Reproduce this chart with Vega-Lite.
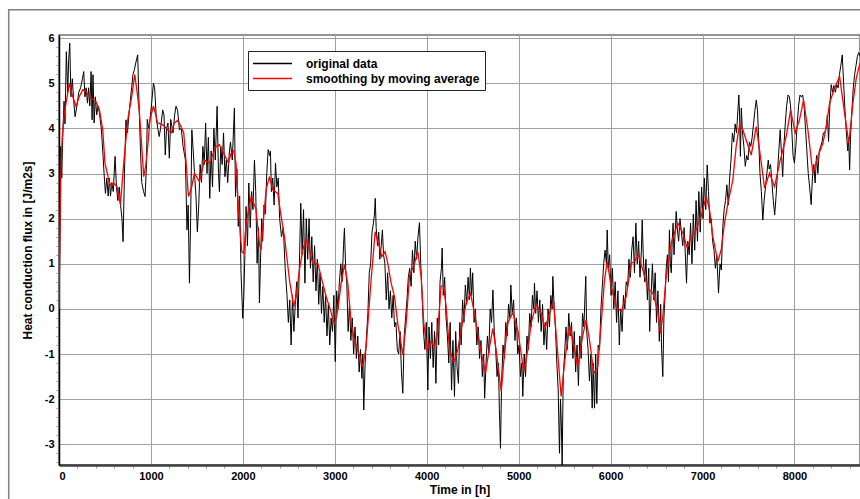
{
  "$schema": "https://vega.github.io/schema/vega-lite/v6.json",
  "width": 801,
  "height": 430,
  "autosize": {"type": "none"},
  "padding": {"left": 59, "top": 35, "right": 0, "bottom": 34},
  "background": "white",
  "config": {
    "font": "Liberation Sans",
    "view": {"stroke": "#707070", "strokeWidth": 1.5},
    "axis": {"labelFont": "Liberation Sans", "labelFontWeight": "bold", "labelFontSize": 11, "labelColor": "black", "titleFont": "Liberation Sans", "titleFontWeight": "bold", "titleFontSize": 12, "titleColor": "black", "gridColor": "#a0a0a0", "gridWidth": 1, "gridOpacity": 1}
  },
  "resolve": {"axis": {"x": "independent", "y": "independent"}},
  "datasets": {
    "orig": [
      {"h":0,"v":0},{"h":10,"v":1.5},{"h":20,"v":3.6},{"h":30,"v":2.9},{"h":40,"v":3.8},{"h":55,"v":4.6},{"h":65,"v":4.1},{"h":80,"v":5.7},{"h":95,"v":4.8},{"h":105,"v":5.5},{"h":117,"v":5.89},{"h":130,"v":4.7},{"h":145,"v":5.1},{"h":160,"v":4.6},{"h":175,"v":4.26},{"h":195,"v":4.5},{"h":215,"v":4.8},{"h":235,"v":4.9},{"h":255,"v":5.1},{"h":269,"v":5.26},{"h":282,"v":4.7},{"h":295,"v":4.9},{"h":310,"v":4.56},{"h":322,"v":4.9},{"h":335,"v":4.5},{"h":349,"v":5.26},{"h":360,"v":4.19},{"h":370,"v":5.19},{"h":382,"v":4.12},{"h":395,"v":4.7},{"h":410,"v":4.3},{"h":425,"v":4.5},{"h":440,"v":4.34},{"h":460,"v":4.0},{"h":476,"v":3.5},{"h":490,"v":3.01},{"h":505,"v":2.56},{"h":520,"v":2.9},{"h":535,"v":2.5},{"h":548,"v":2.9},{"h":560,"v":2.5},{"h":575,"v":2.8},{"h":590,"v":2.6},{"h":610,"v":3.38},{"h":625,"v":2.7},{"h":640,"v":2.4},{"h":655,"v":2.7},{"h":670,"v":2.3},{"h":685,"v":2.0},{"h":697,"v":1.49},{"h":712,"v":3.0},{"h":728,"v":4.19},{"h":745,"v":3.9},{"h":760,"v":4.3},{"h":775,"v":4.6},{"h":790,"v":4.9},{"h":805,"v":5.2},{"h":820,"v":5.3},{"h":835,"v":5.45},{"h":856,"v":5.63},{"h":870,"v":4.6},{"h":885,"v":3.6},{"h":900,"v":2.8},{"h":920,"v":2.6},{"h":936,"v":2.49},{"h":950,"v":3.1},{"h":960,"v":4.2},{"h":975,"v":4.0},{"h":990,"v":4.2},{"h":1010,"v":4.6},{"h":1027,"v":5.0},{"h":1040,"v":4.9},{"h":1060,"v":4.19},{"h":1075,"v":4.0},{"h":1090,"v":3.82},{"h":1105,"v":4.0},{"h":1128,"v":4.41},{"h":1142,"v":4.3},{"h":1156,"v":3.41},{"h":1170,"v":4.0},{"h":1185,"v":4.12},{"h":1200,"v":3.34},{"h":1215,"v":4.2},{"h":1240,"v":3.9},{"h":1258,"v":4.3},{"h":1273,"v":4.49},{"h":1290,"v":4.4},{"h":1310,"v":3.97},{"h":1330,"v":4.0},{"h":1350,"v":3.6},{"h":1375,"v":3.3},{"h":1392,"v":1.75},{"h":1405,"v":2.3},{"h":1419,"v":0.57},{"h":1432,"v":2.0},{"h":1445,"v":3.97},{"h":1460,"v":3.5},{"h":1476,"v":2.93},{"h":1490,"v":2.5},{"h":1505,"v":1.71},{"h":1520,"v":2.3},{"h":1535,"v":3.2},{"h":1550,"v":2.8},{"h":1565,"v":3.6},{"h":1580,"v":3.2},{"h":1595,"v":4.12},{"h":1610,"v":3.0},{"h":1625,"v":3.8},{"h":1640,"v":2.45},{"h":1655,"v":3.5},{"h":1670,"v":2.7},{"h":1685,"v":4.0},{"h":1700,"v":3.3},{"h":1720,"v":4.49},{"h":1735,"v":3.0},{"h":1745,"v":2.6},{"h":1760,"v":3.6},{"h":1775,"v":3.2},{"h":1790,"v":3.9},{"h":1805,"v":2.93},{"h":1820,"v":3.3},{"h":1835,"v":2.8},{"h":1850,"v":3.4},{"h":1865,"v":3.7},{"h":1885,"v":3.3},{"h":1908,"v":4.45},{"h":1920,"v":2.49},{"h":1935,"v":3.1},{"h":1950,"v":1.83},{"h":1965,"v":2.5},{"h":1980,"v":0.79},{"h":1999,"v":-0.21},{"h":2010,"v":0.27},{"h":2022,"v":1.2},{"h":2035,"v":2.27},{"h":2050,"v":1.4},{"h":2065,"v":2.79},{"h":2080,"v":1.8},{"h":2095,"v":2.6},{"h":2110,"v":2.2},{"h":2126,"v":3.3},{"h":2140,"v":2.6},{"h":2155,"v":1.01},{"h":2170,"v":1.8},{"h":2180,"v":0.13},
      {"h":2191,"v":1.0},{"h":2205,"v":2.0},{"h":2215,"v":1.5},{"h":2230,"v":2.3},{"h":2245,"v":2.1},{"h":2260,"v":3.0},{"h":2275,"v":3.53},{"h":2290,"v":3.4},{"h":2300,"v":3.5},{"h":2310,"v":2.6},{"h":2325,"v":2.9},{"h":2340,"v":2.3},{"h":2355,"v":3.23},{"h":2370,"v":2.7},{"h":2385,"v":2.9},{"h":2400,"v":2.0},{"h":2420,"v":1.6},{"h":2440,"v":1.8},{"h":2460,"v":0.9},{"h":2480,"v":0.3},{"h":2495,"v":-0.3},{"h":2510,"v":0.2},{"h":2525,"v":-0.8},{"h":2540,"v":0.3},{"h":2555,"v":-0.5},{"h":2570,"v":0.1},{"h":2585,"v":0.6},{"h":2600,"v":-0.2},{"h":2615,"v":1.0},{"h":2630,"v":2.34},{"h":2645,"v":1.2},{"h":2660,"v":2.2},{"h":2675,"v":0.57},{"h":2690,"v":2.0},{"h":2705,"v":1.1},{"h":2720,"v":2.0},{"h":2735,"v":0.9},{"h":2750,"v":1.6},{"h":2765,"v":0.6},{"h":2780,"v":1.4},{"h":2795,"v":0.4},{"h":2810,"v":1.1},{"h":2825,"v":0.1},{"h":2840,"v":0.8},{"h":2855,"v":-0.1},{"h":2870,"v":0.5},{"h":2885,"v":-0.3},{"h":2900,"v":0.3},{"h":2915,"v":-0.6},{"h":2930,"v":0.1},{"h":2945,"v":-0.8},{"h":2960,"v":-0.2},{"h":2975,"v":-0.5},{"h":2990,"v":0.3},{"h":3005,"v":-1.17},{"h":3020,"v":0.4},{"h":3035,"v":0.0},{"h":3050,"v":0.6},{"h":3065,"v":1.0},{"h":3080,"v":0.6},{"h":3095,"v":1.4},{"h":3105,"v":1.79},{"h":3118,"v":0.9},{"h":3130,"v":0.6},{"h":3145,"v":-0.5},{"h":3160,"v":0.1},{"h":3175,"v":-0.7},{"h":3190,"v":-0.2},{"h":3205,"v":-1.0},{"h":3220,"v":-0.4},{"h":3235,"v":-1.1},{"h":3250,"v":-0.6},{"h":3265,"v":-1.4},{"h":3280,"v":-0.9},{"h":3295,"v":-1.54},{"h":3305,"v":-1.0},{"h":3315,"v":-2.24},{"h":3330,"v":-1.2},{"h":3345,"v":-0.6},{"h":3360,"v":-0.1},{"h":3375,"v":0.8},{"h":3390,"v":1.0},{"h":3405,"v":1.7},{"h":3420,"v":1.9},{"h":3432,"v":2.1},{"h":3440,"v":2.45},{"h":3450,"v":1.8},{"h":3465,"v":1.4},{"h":3478,"v":1.7},{"h":3490,"v":1.1},{"h":3505,"v":1.4},{"h":3518,"v":1.75},{"h":3530,"v":1.2},{"h":3545,"v":1.0},{"h":3560,"v":0.2},{"h":3575,"v":0.8},{"h":3590,"v":0.0},{"h":3605,"v":0.4},{"h":3620,"v":-0.2},{"h":3635,"v":0.3},{"h":3650,"v":-0.4},{"h":3665,"v":-0.3},{"h":3680,"v":-0.9},{"h":3695,"v":-1.0},{"h":3710,"v":-0.5},{"h":3725,"v":-1.4},{"h":3740,"v":-1.87},{"h":3755,"v":-0.6},{"h":3770,"v":-0.2},{"h":3785,"v":0.2},{"h":3800,"v":0.7},{"h":3815,"v":0.9},{"h":3830,"v":0.5},{"h":3845,"v":1.3},{"h":3860,"v":0.8},{"h":3875,"v":1.5},{"h":3890,"v":1.1},{"h":3905,"v":1.6},{"h":3921,"v":1.91},{"h":3935,"v":1.0},{"h":3950,"v":0.3},{"h":3965,"v":-0.5},{"h":3980,"v":-0.9},{"h":3995,"v":-0.3},{"h":4012,"v":-1.8},{"h":4025,"v":-0.4},{"h":4040,"v":-1.1},{"h":4055,"v":-0.3},{"h":4070,"v":-1.3},{"h":4085,"v":-0.5},{"h":4100,"v":-1.65},{"h":4115,"v":-0.2},{"h":4130,"v":-0.8},{"h":4145,"v":0.6},{"h":4160,"v":0.9},{"h":4168,"v":1.35},{"h":4180,"v":0.3},{"h":4195,"v":0.7},{"h":4210,"v":-0.2},{"h":4225,"v":-0.6},{"h":4240,"v":-1.2},{"h":4255,"v":-0.3},{"h":4270,"v":-1.8},{"h":4285,"v":-0.7},{"h":4302,"v":-1.94},{"h":4315,"v":-0.5},{"h":4330,"v":-1.3},
      {"h":4345,"v":-1.65},{"h":4360,"v":-0.3},{"h":4375,"v":-0.8},{"h":4390,"v":0.2},{"h":4405,"v":-0.3},{"h":4420,"v":0.53},{"h":4435,"v":0.1},{"h":4450,"v":0.7},{"h":4465,"v":0.2},{"h":4475,"v":0.9},{"h":4488,"v":0.3},{"h":4500,"v":0.8},{"h":4515,"v":-0.3},{"h":4530,"v":0.0},{"h":4545,"v":-0.8},{"h":4560,"v":-0.4},{"h":4575,"v":-1.1},{"h":4590,"v":-0.7},{"h":4605,"v":-1.5},{"h":4620,"v":-1.0},{"h":4630,"v":-1.98},{"h":4645,"v":-1.2},{"h":4660,"v":-0.6},{"h":4675,"v":-1.0},{"h":4690,"v":0.0},{"h":4705,"v":-0.3},{"h":4720,"v":0.42},{"h":4735,"v":-0.5},{"h":4750,"v":-0.9},{"h":4765,"v":-1.5},{"h":4780,"v":-1.2},{"h":4790,"v":-2.2},{"h":4802,"v":-3.09},{"h":4815,"v":-1.6},{"h":4830,"v":-0.8},{"h":4845,"v":-1.1},{"h":4860,"v":-0.3},{"h":4875,"v":-0.6},{"h":4890,"v":0.1},{"h":4905,"v":-0.2},{"h":4915,"v":0.53},{"h":4930,"v":-0.1},{"h":4945,"v":0.2},{"h":4960,"v":-0.7},{"h":4975,"v":-0.2},{"h":4990,"v":-1.0},{"h":5005,"v":-0.8},{"h":5020,"v":-1.5},{"h":5035,"v":-1.2},{"h":5045,"v":-1.94},{"h":5060,"v":-1.0},{"h":5075,"v":-1.5},{"h":5090,"v":-0.6},{"h":5105,"v":-0.9},{"h":5120,"v":-0.1},{"h":5135,"v":-0.4},{"h":5150,"v":0.3},{"h":5165,"v":0.0},{"h":5172,"v":0.57},{"h":5185,"v":-0.1},{"h":5200,"v":0.4},{"h":5215,"v":-0.3},{"h":5230,"v":0.2},{"h":5245,"v":-0.5},{"h":5260,"v":0.1},{"h":5275,"v":-0.8},{"h":5290,"v":-0.3},{"h":5305,"v":-0.9},{"h":5320,"v":0.0},{"h":5335,"v":-0.4},{"h":5350,"v":0.3},{"h":5365,"v":0.0},{"h":5372,"v":0.72},{"h":5385,"v":0.1},{"h":5400,"v":-0.4},{"h":5415,"v":-1.2},{"h":5430,"v":-1.8},{"h":5444,"v":-3.2},{"h":5455,"v":-2.0},{"h":5465,"v":-2.6},{"h":5473,"v":-3.46},{"h":5485,"v":-1.5},{"h":5500,"v":-1.0},{"h":5515,"v":-0.4},{"h":5530,"v":-0.9},{"h":5545,"v":-0.1},{"h":5560,"v":-0.6},{"h":5575,"v":-0.3},{"h":5590,"v":-1.1},{"h":5605,"v":-0.5},{"h":5620,"v":-1.4},{"h":5635,"v":-0.8},{"h":5650,"v":-1.7},{"h":5665,"v":-0.6},{"h":5680,"v":-1.1},{"h":5695,"v":-0.1},{"h":5710,"v":-0.4},{"h":5720,"v":0.2},{"h":5730,"v":0.72},{"h":5740,"v":-0.5},{"h":5755,"v":-0.9},{"h":5770,"v":-1.6},{"h":5785,"v":-1.0},{"h":5800,"v":-2.2},{"h":5810,"v":-1.2},{"h":5825,"v":-2.2},{"h":5838,"v":-1.0},{"h":5850,"v":-2.1},{"h":5865,"v":-0.8},{"h":5880,"v":-0.9},{"h":5895,"v":0.0},{"h":5910,"v":0.5},{"h":5925,"v":1.0},{"h":5940,"v":1.3},{"h":5955,"v":1.0},{"h":5963,"v":1.75},{"h":5975,"v":0.9},{"h":5990,"v":1.2},{"h":6005,"v":0.3},{"h":6020,"v":0.9},{"h":6035,"v":0.0},{"h":6050,"v":0.6},{"h":6065,"v":-0.3},{"h":6080,"v":0.4},{"h":6095,"v":-0.8},{"h":6110,"v":0.0},{"h":6125,"v":-0.5},{"h":6140,"v":0.3},{"h":6155,"v":0.0},{"h":6170,"v":0.6},{"h":6185,"v":0.5},{"h":6200,"v":1.1},{"h":6215,"v":0.7},{"h":6230,"v":1.3},{"h":6245,"v":1.6},{"h":6260,"v":0.8},{"h":6275,"v":1.9},{"h":6290,"v":1.0},{"h":6305,"v":1.5},{"h":6320,"v":0.7},{"h":6335,"v":1.3},{"h":6344,"v":1.97},{"h":6355,"v":1.2},{"h":6370,"v":0.6},{"h":6385,"v":1.1},{"h":6400,"v":0.2},{"h":6415,"v":0.9},{"h":6425,"v":-0.5},{"h":6440,"v":0.3},{"h":6455,"v":1.0},{"h":6470,"v":0.2},{"h":6485,"v":0.8},{"h":6500,"v":-0.3},{"h":6515,"v":0.4},{"h":6530,"v":-0.72},
      {"h":6545,"v":0.1},{"h":6555,"v":-0.9},{"h":6568,"v":-1.5},{"h":6580,"v":-0.2},{"h":6592,"v":0.3},{"h":6605,"v":0.9},{"h":6618,"v":1.2},{"h":6630,"v":0.6},{"h":6640,"v":1.75},{"h":6650,"v":1.0},{"h":6660,"v":0.8},{"h":6670,"v":1.5},{"h":6680,"v":1.9},{"h":6690,"v":1.2},{"h":6714,"v":2.16},{"h":6725,"v":1.8},{"h":6740,"v":1.5},{"h":6755,"v":2.0},{"h":6770,"v":1.7},{"h":6785,"v":1.4},{"h":6800,"v":1.8},{"h":6815,"v":1.1},{"h":6826,"v":0.57},{"h":6840,"v":1.5},{"h":6855,"v":1.2},{"h":6870,"v":1.9},{"h":6885,"v":1.0},{"h":6900,"v":2.1},{"h":6915,"v":1.3},{"h":6930,"v":2.4},{"h":6945,"v":1.5},{"h":6960,"v":2.6},{"h":6975,"v":1.7},{"h":6990,"v":2.7},{"h":7005,"v":2.0},{"h":7020,"v":2.9},{"h":7035,"v":2.2},{"h":7051,"v":3.19},{"h":7065,"v":2.6},{"h":7080,"v":1.9},{"h":7095,"v":2.0},{"h":7110,"v":1.5},{"h":7125,"v":1.3},{"h":7140,"v":0.9},{"h":7155,"v":1.2},{"h":7174,"v":0.35},{"h":7190,"v":1.0},{"h":7205,"v":0.86},{"h":7220,"v":1.8},{"h":7235,"v":2.2},{"h":7250,"v":2.4},{"h":7265,"v":2.75},{"h":7280,"v":2.3},{"h":7295,"v":2.9},{"h":7310,"v":3.3},{"h":7325,"v":3.9},{"h":7340,"v":3.7},{"h":7355,"v":4.1},{"h":7370,"v":3.9},{"h":7385,"v":4.4},{"h":7395,"v":4.74},{"h":7403,"v":4.3},{"h":7412,"v":3.38},{"h":7422,"v":4.45},{"h":7435,"v":3.9},{"h":7450,"v":3.6},{"h":7465,"v":3.16},{"h":7480,"v":3.4},{"h":7495,"v":3.3},{"h":7510,"v":3.7},{"h":7525,"v":3.6},{"h":7540,"v":3.8},{"h":7555,"v":4.1},{"h":7570,"v":4.4},{"h":7585,"v":4.63},{"h":7598,"v":4.4},{"h":7610,"v":3.8},{"h":7625,"v":3.0},{"h":7640,"v":2.6},{"h":7656,"v":1.97},{"h":7670,"v":2.4},{"h":7685,"v":2.7},{"h":7700,"v":3.0},{"h":7715,"v":3.3},{"h":7725,"v":3.1},{"h":7740,"v":3.2},{"h":7755,"v":2.8},{"h":7770,"v":2.4},{"h":7785,"v":2.08},{"h":7800,"v":2.5},{"h":7815,"v":3.0},{"h":7830,"v":3.5},{"h":7845,"v":3.97},{"h":7860,"v":3.4},{"h":7872,"v":2.93},{"h":7885,"v":3.6},{"h":7900,"v":4.1},{"h":7915,"v":4.5},{"h":7930,"v":4.74},{"h":7945,"v":4.7},{"h":7958,"v":4.5},{"h":7970,"v":4.0},{"h":7985,"v":3.4},{"h":8000,"v":3.23},{"h":8015,"v":3.6},{"h":8030,"v":4.1},{"h":8045,"v":4.5},{"h":8060,"v":4.74},{"h":8074,"v":4.7},{"h":8090,"v":4.74},{"h":8105,"v":4.5},{"h":8120,"v":4.0},{"h":8135,"v":3.5},{"h":8150,"v":3.0},{"h":8165,"v":2.7},{"h":8182,"v":2.31},{"h":8195,"v":2.9},{"h":8210,"v":3.2},{"h":8225,"v":2.79},{"h":8240,"v":3.4},{"h":8255,"v":3.0},{"h":8270,"v":3.5},{"h":8285,"v":3.6},{"h":8300,"v":3.7},{"h":8315,"v":3.9},{"h":8330,"v":3.9},{"h":8346,"v":4.04},{"h":8358,"v":4.3},{"h":8371,"v":3.71},{"h":8385,"v":4.5},{"h":8400,"v":4.97},{"h":8415,"v":4.8},{"h":8430,"v":4.95},{"h":8445,"v":4.8},{"h":8460,"v":4.97},{"h":8475,"v":4.9},{"h":8490,"v":5.2},{"h":8505,"v":5.4},{"h":8520,"v":5.63},{"h":8535,"v":5.0},{"h":8550,"v":4.4},{"h":8565,"v":3.9},{"h":8580,"v":3.5},{"h":8590,"v":3.8},{"h":8600,"v":3.08},{"h":8612,"v":3.9},{"h":8625,"v":4.4},{"h":8640,"v":4.9},{"h":8655,"v":5.2},{"h":8670,"v":5.4},{"h":8685,"v":5.6},{"h":8700,"v":5.68},{"h":8713,"v":5.6}
    ],
    "smooth": [
      {"h":0,"v":0},{"h":8,"v":1.5},{"h":20,"v":3.0},{"h":35,"v":3.8},{"h":55,"v":4.3},{"h":80,"v":4.6},{"h":113,"v":5.0},{"h":150,"v":4.7},{"h":185,"v":4.49},{"h":220,"v":4.7},{"h":258,"v":4.86},{"h":300,"v":4.8},{"h":349,"v":4.67},{"h":400,"v":4.6},{"h":440,"v":4.41},{"h":476,"v":3.97},{"h":500,"v":3.23},{"h":548,"v":2.79},{"h":570,"v":2.72},{"h":595,"v":2.79},{"h":630,"v":2.71},{"h":668,"v":2.31},{"h":704,"v":3.23},{"h":748,"v":4.19},{"h":791,"v":4.71},{"h":824,"v":5.19},{"h":850,"v":4.8},{"h":875,"v":4.34},{"h":900,"v":3.6},{"h":922,"v":2.93},{"h":945,"v":3.2},{"h":965,"v":3.6},{"h":990,"v":4.19},{"h":1027,"v":4.5},{"h":1074,"v":4.12},{"h":1128,"v":4.08},{"h":1183,"v":3.97},{"h":1220,"v":3.9},{"h":1255,"v":4.12},{"h":1292,"v":4.18},{"h":1328,"v":4.04},{"h":1357,"v":3.9},{"h":1383,"v":3.23},{"h":1408,"v":2.49},{"h":1437,"v":2.64},{"h":1473,"v":3.01},{"h":1527,"v":2.82},{"h":1582,"v":3.3},{"h":1636,"v":3.23},{"h":1709,"v":3.6},{"h":1745,"v":3.64},{"h":1818,"v":3.34},{"h":1843,"v":3.23},{"h":1872,"v":3.45},{"h":1900,"v":3.5},{"h":1926,"v":3.23},{"h":1955,"v":2.12},{"h":1988,"v":1.27},{"h":2010,"v":1.23},{"h":2035,"v":1.89},{"h":2090,"v":2.49},{"h":2144,"v":2.2},{"h":2180,"v":1.44},{"h":2198,"v":1.31},{"h":2227,"v":2.05},{"h":2253,"v":2.64},{"h":2289,"v":2.93},{"h":2325,"v":2.64},{"h":2380,"v":2.56},{"h":2416,"v":2.05},{"h":2452,"v":1.6},{"h":2507,"v":0.64},{"h":2554,"v":0.05},{"h":2579,"v":0.27},{"h":2615,"v":0.86},{"h":2652,"v":1.31},{"h":2688,"v":1.53},{"h":2724,"v":1.31},{"h":2760,"v":1.01},{"h":2815,"v":1.01},{"h":2869,"v":0.57},{"h":2906,"v":0.27},{"h":2942,"v":0.05},{"h":2996,"v":-0.35},{"h":3033,"v":-0.02},{"h":3069,"v":0.57},{"h":3105,"v":0.98},{"h":3141,"v":0.57},{"h":3178,"v":-0.32},{"h":3214,"v":-0.69},{"h":3250,"v":-0.91},{"h":3305,"v":-1.28},{"h":3341,"v":-0.84},{"h":3395,"v":0.64},{"h":3439,"v":1.71},{"h":3475,"v":1.46},{"h":3511,"v":1.16},{"h":3547,"v":1.27},{"h":3576,"v":1.01},{"h":3613,"v":0.57},{"h":3649,"v":0.27},{"h":3685,"v":-0.32},{"h":3740,"v":-1.02},{"h":3776,"v":-0.32},{"h":3812,"v":0.72},{"h":3867,"v":1.01},{"h":3903,"v":1.27},{"h":3939,"v":0.72},{"h":3968,"v":-0.32},{"h":4004,"v":-0.91},{"h":4048,"v":-0.72},{"h":4084,"v":-0.84},{"h":4120,"v":-0.47},{"h":4157,"v":0.5},{"h":4182,"v":0.53},{"h":4211,"v":0.05},{"h":4248,"v":-0.91},{"h":4295,"v":-1.17},{"h":4338,"v":-0.91},{"h":4374,"v":-0.47},{"h":4429,"v":0.13},{"h":4476,"v":0.35},{"h":4519,"v":-0.1},{"h":4574,"v":-0.76},{"h":4639,"v":-1.43},{"h":4683,"v":-0.84},{"h":4719,"v":-0.43},{"h":4755,"v":-0.91},{"h":4810,"v":-1.83},{"h":4846,"v":-0.98},{"h":4882,"v":-0.32},{"h":4936,"v":-0.08},{"h":4991,"v":-0.47},{"h":5056,"v":-1.4},{"h":5100,"v":-0.91},{"h":5136,"v":-0.32},{"h":5190,"v":0.11},{"h":5245,"v":-0.1},{"h":5288,"v":-0.43},{"h":5335,"v":-0.1},{"h":5379,"v":0.16},{"h":5419,"v":-0.84},{"h":5462,"v":-1.94},{"h":5499,"v":-1.2},{"h":5553,"v":-0.39},{"h":5589,"v":-0.69},{"h":5644,"v":-1.28},{"h":5687,"v":-0.7},{"h":5734,"v":-0.24},{"h":5771,"v":-0.7},{"h":5818,"v":-1.43},{"h":5861,"v":-1.28},{"h":5898,"v":-0.32},{"h":5934,"v":0.64},{"h":5963,"v":1.05},{"h":6006,"v":0.5},{"h":6061,"v":0.05},{"h":6115,"v":-0.06},{"h":6170,"v":0.27},{"h":6224,"v":1.01},{"h":6260,"v":1.05},{"h":6304,"v":1.2},{"h":6351,"v":0.86},{"h":6405,"v":0.46},{"h":6460,"v":0.35},{"h":6514,"v":-0.05},{"h":6543,"v":-0.54},{"h":6568,"v":-0.17},{"h":6605,"v":0.72},{"h":6659,"v":1.46},{"h":6732,"v":1.9},{"h":6786,"v":1.68},{"h":6833,"v":1.35},{"h":6877,"v":1.6},{"h":6931,"v":1.75},{"h":6985,"v":2.05},{"h":7040,"v":2.49},{"h":7076,"v":2.2},{"h":7112,"v":1.6},{"h":7167,"v":1.05},{"h":7203,"v":1.31},{"h":7239,"v":1.9},{"h":7276,"v":2.34},{"h":7330,"v":2.86},{"h":7366,"v":3.6},{"h":7403,"v":4.08},{"h":7439,"v":3.97},{"h":7486,"v":3.67},{"h":7530,"v":3.41},{"h":7584,"v":4.04},{"h":7620,"v":3.53},{"h":7675,"v":2.68},{"h":7729,"v":3.01},{"h":7783,"v":2.71},{"h":7838,"v":3.23},{"h":7910,"v":3.82},{"h":7958,"v":4.41},{"h":8008,"v":3.9},{"h":8055,"v":4.19},{"h":8099,"v":4.63},{"h":8146,"v":3.97},{"h":8200,"v":3.01},{"h":8255,"v":3.38},{"h":8310,"v":3.67},{"h":8346,"v":4.04},{"h":8382,"v":4.56},{"h":8436,"v":4.89},{"h":8491,"v":5.15},{"h":8545,"v":4.34},{"h":8592,"v":3.67},{"h":8636,"v":4.56},{"h":8672,"v":5.11},{"h":8713,"v":5.45}
    ]
  },
  "layer": [
    {
      "data": {"values": [{}]},
      "mark": {"type": "rect", "fill": null, "stroke": "#808080", "strokeWidth": 1.5, "clip": false},
      "encoding": {
        "x": {"datum": -547, "type": "quantitative",
          "axis": {"orient": "bottom", "values": [200,400,600,800,1200,1400,1600,1800,2200,2400,2600,2800,3200,3400,3600,3800,4200,4400,4600,4800,5200,5400,5600,5800,6200,6400,6600,6800,7200,7400,7600,7800,8200,8400,8600], "labels": false, "domain": false, "grid": false, "ticks": true, "tickSize": 3, "tickColor": "#999", "title": null}},
        "x2": {"datum": 9500},
        "y": {"datum": 6.63, "type": "quantitative",
          "axis": {"orient": "left", "values": [-3.4,-3.2,-2.8,-2.6,-2.4,-2.2,-1.8,-1.6,-1.4,-1.2,-0.8,-0.6,-0.4,-0.2,0.2,0.4,0.6,0.8,1.2,1.4,1.6,1.8,2.2,2.4,2.6,2.8,3.2,3.4,3.6,3.8,4.2,4.4,4.6,4.8,5.2,5.4,5.6,5.8], "labels": false, "domain": false, "grid": false, "ticks": true, "tickSize": 3, "tickColor": "#999", "title": null}},
        "y2": {"datum": -5.5}
      }
    },
    {
      "data": {"name": "orig"},
      "mark": {"type": "line", "strokeWidth": 1, "clip": true},
      "encoding": {
        "x": {"field": "h", "type": "quantitative", "scale": {"domain": [0, 8713], "nice": false, "zero": false},
          "axis": {"orient": "bottom", "title": "Time in [h]", "values": [0,1000,2000,3000,4000,5000,6000,7000,8000], "labelExpr": "'' + datum.value", "grid": true, "ticks": false, "labelPadding": 5, "titlePadding": 3, "domainColor": "#404040", "domainWidth": 2.5}},
        "y": {"field": "v", "type": "quantitative", "scale": {"domain": [-3.46, 6.07], "nice": false, "zero": false},
          "axis": {"orient": "left", "title": "Heat conduction flux in [J/m2s]", "values": [-3,-2,-1,0,1,2,3,4,5,6], "labelExpr": "'' + datum.value", "grid": true, "ticks": false, "labelPadding": 5, "titlePadding": 10, "domainColor": "black", "domainWidth": 1.5}},
        "color": {"datum": "original data", "type": "nominal",
          "scale": {"domain": ["original data", "smoothing by moving average"], "range": ["black", "#ff0000"]},
          "legend": {"title": null, "orient": "none", "legendX": 189, "legendY": 16, "symbolType": "M-3,0H3", "symbolSize": 169, "symbolStrokeWidth": 1.3, "symbolOffset": 12, "labelOffset": 26, "labelLimit": 0, "labelFont": "Liberation Sans", "labelFontWeight": "bold", "labelFontSize": 12, "labelColor": "black", "strokeColor": "#222", "fillColor": "white", "padding": 5, "rowPadding": 1}}
      }
    },
    {
      "data": {"name": "smooth"},
      "mark": {"type": "line", "strokeWidth": 1.3, "clip": true},
      "encoding": {
        "x": {"field": "h", "type": "quantitative", "axis": null},
        "y": {"field": "v", "type": "quantitative", "axis": null},
        "color": {"datum": "smoothing by moving average", "type": "nominal"}
      }
    }
  ]
}
